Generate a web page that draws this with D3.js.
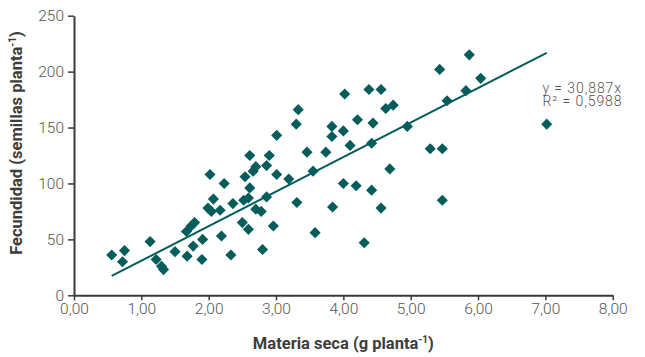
<!DOCTYPE html>
<html>
<head>
<meta charset="utf-8">
<script src="https://cdn.jsdelivr.net/npm/d3@7"></script>
<style>
    body { margin: 0; background: #fff; }
    .tick text { font-family: Roboto, sans-serif; font-weight: 300; font-size: 15.5px; fill: #555; }
    .axis path, .axis line { stroke: #3a3a3a; }
    .axis-title { font-family: Roboto, sans-serif; font-weight: 700; font-size: 16.5px; fill: #3d3d3d; }
    .eq { font-family: Roboto, sans-serif; font-weight: 300; font-size: 14px; letter-spacing: 0.9px; fill: #555; }
</style>
</head>
<body>
<div id="chart"></div>
<script>

// Materia seca (g planta-1)
var materiaSeca = [0.56, 0.72, 0.75, 1.13, 1.22, 1.30, 1.33, 1.50, 1.67, 1.68,
    1.74, 1.77, 1.79, 1.90, 1.91, 1.99, 2.02, 2.04, 2.07, 2.17,
    2.19, 2.23, 2.33, 2.36, 2.50, 2.52, 2.54, 2.59, 2.59, 2.61,
    2.61, 2.66, 2.70, 2.70, 2.78, 2.80, 2.86, 2.86, 2.90, 2.96,
    3.01, 3.01, 3.19, 3.30, 3.31, 3.33, 3.46, 3.55, 3.58, 3.74,
    3.83, 3.83, 3.84, 4.00, 4.00, 4.02, 4.10, 4.19, 4.21, 4.31,
    4.38, 4.42, 4.42, 4.44, 4.56, 4.56, 4.63, 4.69, 4.74, 4.95,
    5.29, 5.43, 5.47, 5.47, 5.54, 5.82, 5.87, 6.04, 7.02];

// Fecundidad (semillas planta-1)
var fecundidad = [36, 30, 40, 48, 32, 26, 23, 39, 57, 35,
    62, 44, 65, 32, 50, 78, 108, 75, 86, 76,
    53, 100, 36, 82, 65, 85, 106, 59, 87, 96,
    125, 111, 115, 77, 75, 41, 88, 116, 125, 62,
    108, 143, 104, 153, 83, 166, 128, 111, 56, 128,
    151, 142, 79, 100, 147, 180, 134, 98, 157, 47,
    184, 94, 136, 154, 184, 78, 167, 113, 170, 151,
    131, 202, 131, 85, 174, 183, 215, 194, 153];

var xTicks = [0, 1, 2, 3, 4, 5, 6, 7, 8];
var yTicks = [0, 50, 100, 150, 200, 250];
var slope = 30.887;
var equationLines = ["y = 30,887x", "R² = 0,5988"];


ScatterVis = function(_parentElement){
    this.parentElement = _parentElement;
    this.data = materiaSeca.map(function(x, i){ return { x: x, y: fecundidad[i] }; });
    this.initVis();
}

ScatterVis.prototype.initVis = function(){
    var vis = this;

    vis.margin = { top: 15.7, right: 32.3, bottom: 61.7, left: 74 };
    vis.width = 645 - vis.margin.left - vis.margin.right;
    vis.height = 357 - vis.margin.top - vis.margin.bottom;
    vis.color = "#055d5b";

    vis.svgRoot = d3.select("#" + vis.parentElement).append("svg")
        .attr("width", 645)
        .attr("height", 357);

    vis.svg = vis.svgRoot.append("g")
        .attr("transform", "translate(" + vis.margin.left + "," + vis.margin.top + ")");

    // Scales
    vis.x = d3.scaleLinear().domain([0, 8]).range([0, vis.width]);
    vis.y = d3.scaleLinear().domain([0, 250]).range([vis.height, 0]);

    var locale = d3.formatLocale({ decimal: ",", thousands: ".", grouping: [3], currency: ["", ""] });
    vis.xFormat = locale.format(".2f");

    vis.xAxis = d3.axisBottom(vis.x).tickValues(xTicks).tickFormat(vis.xFormat)
        .tickSize(5).tickSizeOuter(0).tickPadding(3);
    vis.yAxis = d3.axisLeft(vis.y).tickValues(yTicks)
        .tickSize(6).tickSizeOuter(0).tickPadding(4);

    vis.wrangleData();
}

ScatterVis.prototype.wrangleData = function(){
    var vis = this;
    vis.xExtent = d3.extent(vis.data, function(d){ return d.x; });
    vis.updateVis();
}

ScatterVis.prototype.updateVis = function(){
    var vis = this;

    // axes
    vis.svg.append("g")
        .attr("class", "axis x-axis")
        .attr("transform", "translate(0," + vis.height + ")")
        .call(vis.xAxis)
        .call(function(g){
            g.select(".domain").attr("stroke-width", 2);
            g.selectAll(".tick line").attr("stroke-width", 1.5);
        });

    vis.svg.append("g")
        .attr("class", "axis y-axis")
        .call(vis.yAxis)
        .call(function(g){
            g.select(".domain").attr("stroke-width", 2);
            g.selectAll(".tick line").attr("stroke-width", 1.5);
        });

    // points
    vis.svg.append("g").selectAll("path")
        .data(vis.data)
        .enter().append("path")
        .attr("d", d3.symbol().type(d3.symbolSquare).size(62))
        .attr("transform", function(d){
            return "translate(" + vis.x(d.x) + "," + vis.y(d.y) + ") rotate(45)";
        })
        .attr("fill", vis.color);

    // trend line through the origin
    vis.svg.append("line")
        .attr("x1", vis.x(vis.xExtent[0]))
        .attr("y1", vis.y(slope * vis.xExtent[0]))
        .attr("x2", vis.x(vis.xExtent[1]))
        .attr("y2", vis.y(slope * vis.xExtent[1]))
        .attr("stroke", vis.color)
        .attr("stroke-width", 2);

    // equation
    vis.svgRoot.append("text")
        .attr("class", "eq")
        .attr("x", 542.5)
        .attr("y", 92.5)
        .selectAll("tspan")
        .data(equationLines)
        .enter().append("tspan")
        .attr("x", 542.5)
        .attr("dy", function(d, i){ return i === 0 ? 0 : 13.5; })
        .text(function(d){ return d; });

    // axis titles
    var xt = vis.svgRoot.append("text")
        .attr("class", "axis-title")
        .attr("text-anchor", "middle")
        .attr("x", vis.margin.left + vis.width / 2)
        .attr("y", 348.5);
    xt.append("tspan").text("Materia seca (g planta");
    xt.append("tspan").attr("dy", -6).attr("font-size", "10px").text("-1");
    xt.append("tspan").attr("dy", 6).text(")");

    var yt = vis.svgRoot.append("text")
        .attr("class", "axis-title")
        .attr("text-anchor", "middle")
        .attr("transform", "translate(22,143) rotate(-90)");
    yt.append("tspan").text("Fecundidad (semillas planta");
    yt.append("tspan").attr("dy", -6).attr("font-size", "10px").text("-1");
    yt.append("tspan").attr("dy", 6).text(")");
}

var scatter = new ScatterVis("chart");

</script>
</body>
</html>
